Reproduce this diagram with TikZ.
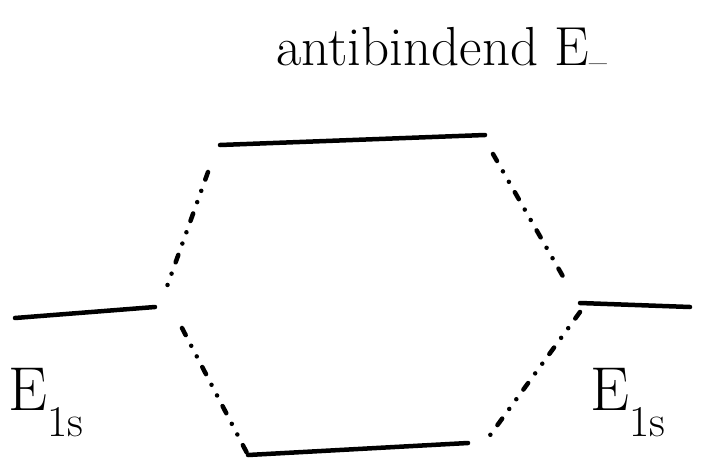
\documentclass[tikz,border=0pt]{standalone}
\usepackage{fix-cm}
\newcommand{\lowsub}[1]{\raisebox{-26pt}{\fontsize{44}{50}\selectfont #1}}
\tikzset{
  level/.style={line width=4.5pt, line cap=round},
  link/.style={line width=4.5pt, line cap=round, dash pattern=on 8pt off 12pt on 0pt off 12pt on 0pt off 12pt},
  lbl/.style={inner sep=0pt, anchor=base west, font=\fontsize{62}{70}\selectfont},
  ttl/.style={inner sep=0pt, anchor=base, font=\fontsize{55}{62}\selectfont}
}
\begin{document}
\begin{tikzpicture}[x=1pt,y=-1pt]
\useasboundingbox (0,0) rectangle (711,460);
% level end points
\coordinate (L1) at (15,318);
\coordinate (L2) at (155,307);
\coordinate (T1) at (220,145);
\coordinate (T2) at (485,135);
\coordinate (R1) at (580,303);
\coordinate (R2) at (690,307);
\coordinate (B1) at (248,455);
\coordinate (B2) at (468,443);
% connector ends
\coordinate (a1) at (208,172);
\coordinate (a2) at (165,292);
\coordinate (b1) at (182,328);
\coordinate (c1) at (493,154);
\coordinate (c2) at (565,280);
\coordinate (d1) at (580,312);
\coordinate (d2) at (488,438);
% levels
\draw[level] (L1) -- (L2);
\draw[level] (T1) -- (T2);
\draw[level] (R1) -- (R2);
\draw[level] (B1) -- (B2);
% connectors
\draw[link] (a1) -- (a2);
\draw[link] (b1) -- (B1);
\draw[link] (c1) -- (c2);
\draw[link] (d1) -- (d2);
% labels
\node[ttl] (title) at (442,66) {antibindend E\textsubscript{--}};
\node[lbl] (EL) at (8,410) {E\lowsub{1s}};
\node[lbl] (ER) at (590,410) {E\lowsub{1s}};
\end{tikzpicture}
\end{document}
